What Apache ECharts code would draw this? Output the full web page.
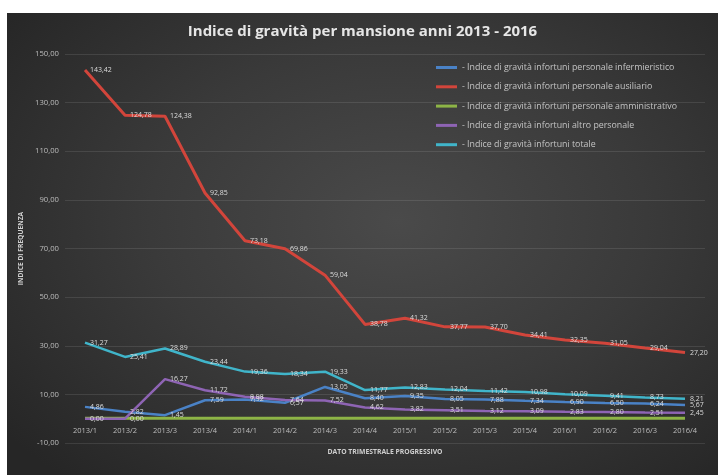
<!DOCTYPE html>
<html>
<head>
<meta charset="utf-8">
<script src="https://cdn.jsdelivr.net/npm/echarts@6/dist/echarts.min.js"></script>
<style>
  html, body { margin: 0; padding: 0; background: #ffffff; width: 718px; height: 475px; overflow: hidden; }
  #chart { position: absolute; left: 7px; top: 13px; width: 711px; height: 462px;
    background: radial-gradient(ellipse 70% 75% at 55% 45%, #4a4a4a 0%, #3a3a3a 50%, #262626 100%); }
</style>
</head>
<body>
<div id="chart"></div>
<script>
const categories = ['2013/1','2013/2','2013/3','2013/4','2014/1','2014/2','2014/3','2014/4',
                    '2015/1','2015/2','2015/3','2015/4','2016/1','2016/2','2016/3','2016/4'];
const seriesNames = [
  '- Indice di gravità infortuni personale infermieristico',
  '- Indice di gravità infortuni personale ausiliario',
  '- Indice di gravità infortuni personale amministrativo',
  '- Indice di gravità infortuni altro personale',
  '- Indice di gravità infortuni totale'
];
const infermieristico = [4.86, 2.82, 1.45, 7.59, 7.92, 6.57, 13.05, 8.40, 9.35, 8.05, 7.88, 7.34, 6.90, 6.50, 6.24, 5.67];
const ausiliario      = [143.42, 124.78, 124.38, 92.85, 73.18, 69.86, 59.04, 38.78, 41.32, 37.77, 37.70, 34.41, 32.35, 31.05, 29.04, 27.20];
const amministrativo  = [0.20, 0.20, 0.20, 0.20, 0.20, 0.20, 0.20, 0.20, 0.20, 0.20, 0.20, 0.20, 0.20, 0.20, 0.20, 0.20];
const altroPersonale  = [0.00, 0.00, 16.27, 11.72, 8.98, 7.64, 7.52, 4.62, 3.82, 3.51, 3.12, 3.09, 2.83, 2.80, 2.51, 2.45];
const totale          = [31.27, 25.41, 28.89, 23.44, 19.36, 18.34, 19.33, 11.77, 12.83, 12.04, 11.42, 10.98, 10.09, 9.41, 8.73, 8.21];
const yTicks = { min: -10, max: 150, interval: 20 };

const colors = ['#4a82c6', '#d2453b', '#8db446', '#8e64b4', '#40b5ca'];
const FONT = 'Open Sans';
const fmt = v => Number(v).toFixed(2).replace('.', ',');

function lineSeries(name, data, color, showLabel, width) {
  return {
    name: name, type: 'line', data: data,
    symbol: 'circle', symbolSize: 0, showSymbol: true, smooth: false,
    lineStyle: { color: color, width: width },
    itemStyle: { color: color },
    label: {
      show: showLabel, position: 'right', distance: 5,
      color: '#dcdcdc', fontSize: 7, fontFamily: FONT,
      formatter: p => fmt(p.value)
    },
    z: 3
  };
}

const chart = echarts.init(document.getElementById('chart'), null, { renderer: 'canvas' });
chart.setOption({
  backgroundColor: 'transparent',
  animation: false,
  color: colors,
  title: {
    text: 'Indice di gravità per mansione anni 2013 - 2016',
    left: 'center', top: 6,
    textStyle: { color: '#e6e6e6', fontSize: 15, fontWeight: 'bold', fontFamily: FONT }
  },
  legend: {
    orient: 'vertical', left: 424, top: 44,
    itemWidth: 21, itemHeight: 3, itemGap: 8.3,
    icon: 'rect',
    textStyle: { color: '#c4c4c4', fontSize: 8.8, fontFamily: FONT, lineHeight: 11 },
    data: seriesNames
  },
  grid: { left: 58, right: 13, top: 41, bottom: 32, containLabel: false, outerBoundsMode: 'none' },
  xAxis: {
    type: 'category', data: categories, boundaryGap: true,
    name: 'DATO TRIMESTRALE PROGRESSIVO', nameLocation: 'middle', nameGap: 6,
    nameTextStyle: { color: '#cfcfcf', fontSize: 6.8, fontWeight: 'bold', fontFamily: FONT },
    axisLine: { onZero: false, show: false },
    axisTick: { show: false },
    axisLabel: { color: '#bdbdbd', fontSize: 7.5, fontFamily: FONT, margin: -16 },
    splitLine: { show: false }
  },
  yAxis: {
    type: 'value', min: yTicks.min, max: yTicks.max, interval: yTicks.interval,
    name: 'INDICE DI FREQUENZA', nameLocation: 'middle', nameGap: 36, nameRotate: 90,
    nameTextStyle: { color: '#cfcfcf', fontSize: 6.7, fontWeight: 'bold', fontFamily: FONT },
    axisLine: { show: false }, axisTick: { show: false },
    axisLabel: { color: '#bdbdbd', fontSize: 7.7, fontFamily: FONT, margin: 6, formatter: v => fmt(v) },
    splitLine: { lineStyle: { color: 'rgba(255,255,255,0.10)', width: 1 } }
  },
  series: [
    lineSeries(seriesNames[0], infermieristico, colors[0], true, 2.5),
    lineSeries(seriesNames[1], ausiliario, colors[1], true, 3),
    lineSeries(seriesNames[2], amministrativo, colors[2], false, 3),
    lineSeries(seriesNames[3], altroPersonale, colors[3], true, 2.5),
    lineSeries(seriesNames[4], totale, colors[4], true, 2.5)
  ]
});
</script>
</body>
</html>
